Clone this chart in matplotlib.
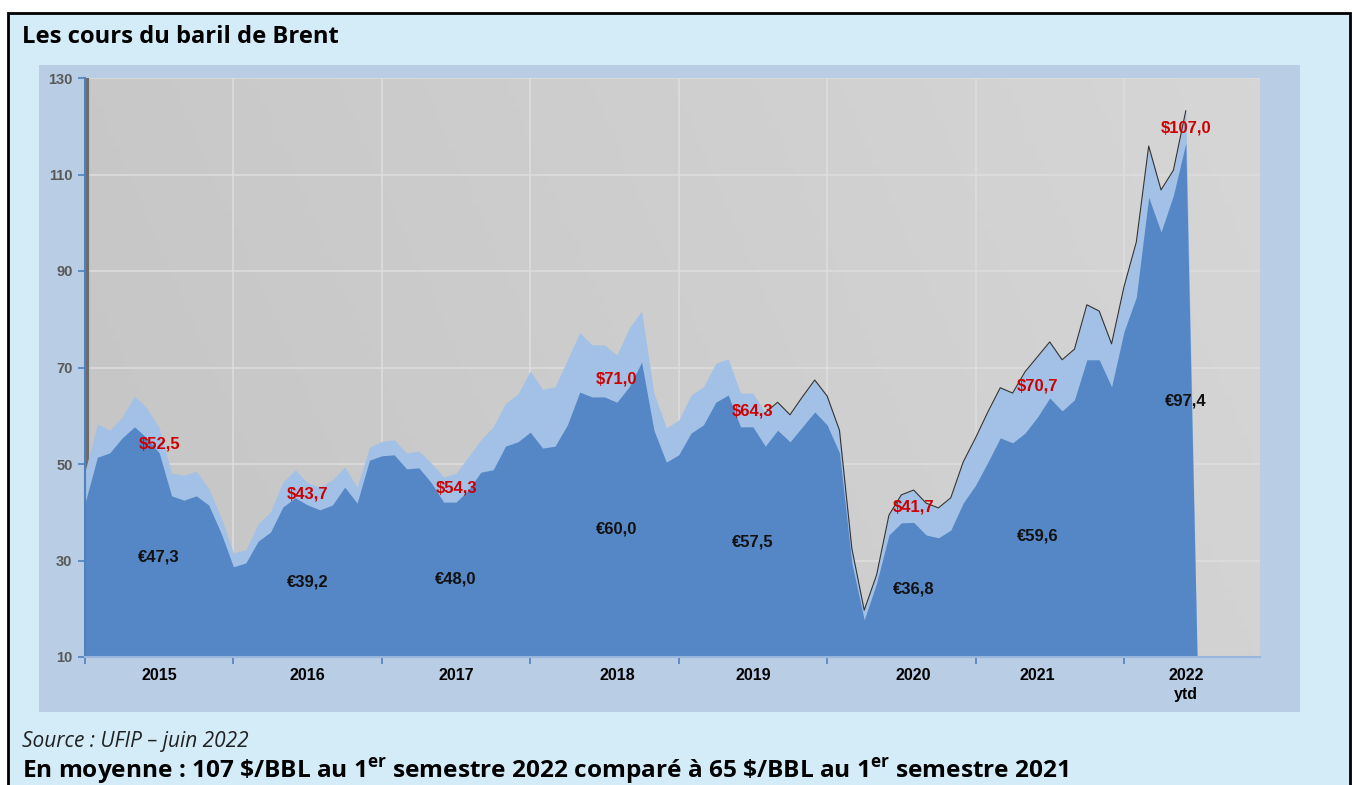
import numpy as np
import matplotlib
matplotlib.use("Agg")
import matplotlib.pyplot as plt
from matplotlib.patches import Rectangle

# Cours mensuels du Brent, janvier 2015 -> juin 2022 (+ juillet vide = 0)
usd = [48.5, 58.3, 57.0, 59.7, 64.1, 61.6, 57.5, 48.1, 47.7, 48.5, 45.0, 39.0,
       31.6, 32.2, 37.6, 40.1, 46.3, 48.8, 46.1, 45.2, 46.7, 49.4, 45.2, 53.5,
       54.7, 55.0, 52.3, 52.7, 50.2, 47.3, 48.1, 51.5, 55.0, 57.7, 62.6, 64.5,
       69.3, 65.5, 66.0, 71.6, 77.2, 74.7, 74.7, 72.6, 78.2, 81.7, 64.7, 57.5,
       59.1, 64.3, 66.0, 70.9, 71.8, 64.7, 64.7, 60.6, 62.8, 60.2, 63.9, 67.4,
       64.1, 57.0, 32.5, 19.7, 27.0, 39.4, 43.6, 44.6, 41.9, 40.9, 43.0, 50.4,
       55.4, 60.8, 65.8, 64.7, 69.1, 72.2, 75.3, 71.6, 73.8, 83.0, 81.7, 74.9,
       86.7, 96.0, 115.9, 106.8, 110.9, 123.2, 0]
eur = [41.9, 51.4, 52.3, 55.4, 57.7, 55.4, 52.3, 43.4, 42.5, 43.4, 41.5, 35.7,
       28.7, 29.5, 34.0, 35.9, 41.1, 43.0, 41.5, 40.5, 41.5, 45.2, 41.9, 50.8,
       51.7, 51.9, 49.0, 49.2, 46.1, 42.1, 42.1, 44.6, 48.3, 48.8, 53.7, 54.6,
       56.6, 53.3, 53.7, 58.1, 64.9, 63.9, 63.9, 62.8, 66.0, 71.1, 57.0, 50.4,
       51.9, 56.4, 58.1, 62.8, 64.3, 57.7, 57.7, 53.7, 57.0, 54.6, 57.7, 60.8,
       58.1, 52.3, 29.5, 17.7, 25.3, 35.3, 37.8, 37.9, 35.3, 34.7, 36.3, 41.9,
       45.6, 50.4, 55.4, 54.4, 56.4, 59.7, 63.7, 61.0, 63.3, 71.6, 71.6, 66.0,
       77.4, 84.6, 105.3, 98.1, 105.7, 116.5, 0]

annees = ["2015", "2016", "2017", "2018", "2019", "2020", "2021", "2022\nytd"]
moy_usd = [52.5, 43.7, 54.3, 71.0, 64.3, 41.7, 70.7, 107.0]
moy_eur = [47.3, 39.2, 48.0, 60.0, 57.5, 36.8, 59.6, 97.4]

# positions des étiquettes (en mois / en valeur)
pos_x = [6, 18, 30, 43, 54, 67, 77, 89]
pos_y_usd = [54.1, 43.8, 45.0, 67.6, 61.0, 41.1, 66.2, 119.6]
pos_y_eur = [30.7, 25.5, 26.2, 36.5, 33.8, 24.1, 35.1, 63.1]

W, H = 1352, 785
fig = plt.figure(figsize=(W / 100, H / 100), dpi=100, facecolor="white")

def fx(px):
    return px / W

def fy(py):
    return 1 - py / H

# cadre noir + fond bleu clair
fig.patches.append(Rectangle((fx(8), -0.02), fx(1350) - fx(8), fy(13) + 0.02,
                             transform=fig.transFigure, facecolor="#d3ecf8",
                             edgecolor="black", lw=2, zorder=-2))
# panneau du graphique
fig.patches.append(Rectangle((fx(39), fy(712)), fx(1300) - fx(39), fy(65) - fy(712),
                             transform=fig.transFigure, facecolor="#b9cde5",
                             edgecolor="none", zorder=-1))

fig.text(fx(22), fy(43), "Les cours du baril de Brent", family="Open Sans",
         weight="bold", fontsize=17.1, va="baseline", ha="left")
fig.text(fx(22), fy(747), "Source : UFIP \u2013 juin 2022", family="Open Sans",
         style="italic", fontsize=15, va="baseline", ha="left", color="#222222")

plt.rcParams["mathtext.fontset"] = "custom"
plt.rcParams["mathtext.rm"] = "Open Sans:bold"
plt.rcParams["mathtext.bf"] = "Open Sans:bold"
fig.text(fx(22), fy(778),
         r"En moyenne : 107 \$/BBL au 1$^{\mathrm{er}}$ semestre 2022 comparé à 65 \$/BBL au 1$^{\mathrm{er}}$ semestre 2021",
         family="Open Sans", weight="bold", fontsize=17.6, va="baseline", ha="left")

ax = fig.add_axes([fx(85), fy(657), fx(1260) - fx(85), fy(78) - fy(657)])
ax.set_zorder(2)
ax.set_xlim(0, 95)
ax.set_ylim(10, 130)

# fond gris dégradé
gx, gy = np.meshgrid(np.linspace(0, 1, 200), np.linspace(0, 1, 100))
g = (197 + 14 * gx + 3 * gy) / 255
ax.imshow(np.dstack([g, g, g]), extent=[0, 95, 10, 130], aspect="auto",
          origin="lower", zorder=0)

mois = np.arange(len(usd))
ax.axvline(0.2, color="#6c6c6c", lw=2.3, zorder=1)
ax.fill_between(mois, 0, usd, color="#a3c1e6", lw=0, zorder=2)
ax.plot(mois[55:90], usd[55:90], color="#333333", lw=0.8, zorder=2.5)
ax.fill_between(mois, 0, eur, color="#5587c6", lw=0, zorder=3)

ax.set_yticks(range(10, 131, 20))
ax.set_xticks(range(0, 85, 12))
ax.set_xticklabels([])
ax.set_xticks(pos_x, minor=True)
ax.set_xticklabels(annees, minor=True)
ax.grid(True, which="major", color="#dedede", lw=1.1)
ax.set_axisbelow(True)
for gl in ax.get_xgridlines() + ax.get_ygridlines():
    gl.set_zorder(0.5)

for s in ["top", "right"]:
    ax.spines[s].set_visible(False)
ax.spines["left"].set_color("#4f81bd")
ax.spines["left"].set_linewidth(1.5)
ax.spines["bottom"].set_color("#9ab6dc")
ax.spines["bottom"].set_linewidth(1.5)
ax.spines["left"].set_zorder(4)
ax.spines["bottom"].set_zorder(4)

ax.tick_params(axis="y", length=5, width=1.2, color="#4f81bd", pad=4,
               labelsize=10.5, labelcolor="#595959")
ax.tick_params(axis="x", which="major", length=5, width=1.2, color="#4f81bd")
ax.tick_params(axis="x", which="minor", length=0, pad=8, labelsize=11.5)
for lab in ax.get_yticklabels():
    lab.set_fontweight("bold")
    lab.set_family("Liberation Sans")
for lab in ax.get_xticklabels(minor=True):
    lab.set_fontweight("bold")
    lab.set_family("Liberation Sans")
    lab.set_linespacing(1.35)

for x, y, v in zip(pos_x, pos_y_usd, moy_usd):
    ax.text(x, y, ("$%.1f" % v).replace(".", ","), color="#cc0000",
            family="Liberation Sans", weight="bold", fontsize=12,
            ha="center", va="center", zorder=5)
for x, y, v in zip(pos_x, pos_y_eur, moy_eur):
    ax.text(x, y, ("\u20ac%.1f" % v).replace(".", ","), color="#111111",
            family="Liberation Sans", weight="bold", fontsize=12,
            ha="center", va="center", zorder=5)

fig.savefig("out.png", dpi=100, facecolor="white")
